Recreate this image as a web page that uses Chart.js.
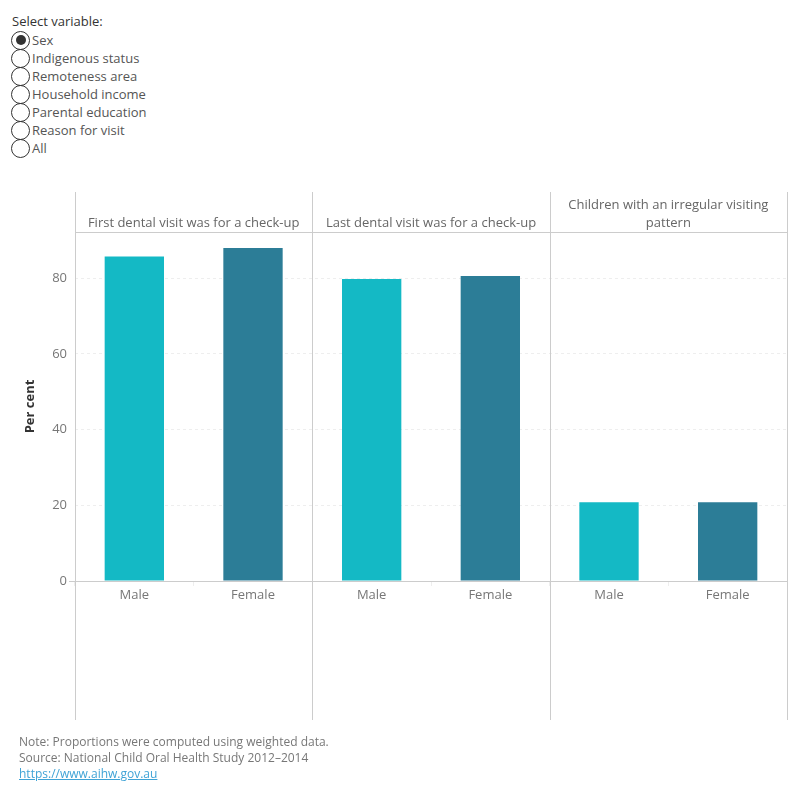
<!DOCTYPE html>
<html>
<head>
<meta charset="utf-8">
<script src="https://cdn.jsdelivr.net/npm/chart.js@4/dist/chart.umd.min.js"></script>
<style>
  html, body { margin: 0; padding: 0; background: #fff; width: 800px; height: 800px; overflow: hidden; font-family: "Open Sans", sans-serif; }
  #controls { position: absolute; left: 12px; top: 12px; font-size: 13px; color: #555; }
  #controls .title { color: #333; height: 19px; line-height: 19px; }
  #controls .row { height: 18px; line-height: 18px; display: flex; align-items: center; }
  #controls .dot { width: 19px; height: 19px; border: 1px solid #333; border-radius: 50%; box-sizing: border-box; margin-right: 2px; margin-left: -1px; position: relative; }
  #controls .dot.on::after { content: ""; position: absolute; left: 3.5px; top: 3.5px; width: 10px; height: 10px; border-radius: 50%; background: #333; }
  #wrap { position: absolute; left: 0; top: 180px; width: 800px; height: 560px; }
  #notes { position: absolute; left: 19px; top: 734px; font-size: 12px; color: #777; line-height: 16px; }
  #notes a { color: #3fa3d6; text-decoration: underline; }
</style>
</head>
<body>
<div id="controls">
  <div class="title">Select variable:</div>
  <div class="row"><span class="dot on"></span>Sex</div>
  <div class="row"><span class="dot"></span>Indigenous status</div>
  <div class="row"><span class="dot"></span>Remoteness area</div>
  <div class="row"><span class="dot"></span>Household income</div>
  <div class="row"><span class="dot"></span>Parental education</div>
  <div class="row"><span class="dot"></span>Reason for visit</div>
  <div class="row"><span class="dot"></span>All</div>
</div>
<div id="wrap"><canvas id="c" width="800" height="560"></canvas></div>
<div id="notes">
  Note: Proportions were computed using weighted data.<br>
  Source: National Child Oral Health Study 2012–2014<br>
  <a href="#">https://www.aihw.gov.au</a>
</div>
<script>
const panels = [
  ["First dental visit was for a check-up"],
  ["Last dental visit was for a check-up"],
  ["Children with an irregular visiting", "pattern"]
];
const sexes = ["Male", "Female"];
const maleValues = [85.7, 79.8, 20.8];
const femaleValues = [88.0, 80.6, 20.8];
const yTicks = [0, 20, 40, 60, 80];

const sexColors = { Male: "#14b9c5", Female: "#2c7d97" };
const FONT = "'Open Sans', sans-serif";

const labels = [];
const values = [];
const colors = [];
panels.forEach((p, i) => {
  sexes.forEach(s => {
    labels.push(s);
    values.push(s === "Male" ? maleValues[i] : femaleValues[i]);
    colors.push(sexColors[s]);
  });
});

const panelPlugin = {
  id: "panels",
  afterDraw(chart) {
    const ctx = chart.ctx;
    const x = chart.scales.x;
    const y = chart.scales.y;
    const ca = chart.chartArea;
    const bounds = [ca.left];
    for (let i = 1; i < panels.length; i++) {
      bounds.push((x.getPixelForValue(2 * i - 1) + x.getPixelForValue(2 * i)) / 2);
    }
    bounds.push(ca.right);
    ctx.save();
    ctx.strokeStyle = "#cccccc";
    ctx.lineWidth = 1;
    bounds.forEach(b => {
      const bx = Math.round(b) + 0.5;
      ctx.beginPath();
      ctx.moveTo(bx, 12);
      ctx.lineTo(bx, 540);
      ctx.stroke();
    });
    const ht = Math.round(ca.top) + 0.5;
    ctx.beginPath();
    ctx.moveTo(ca.left, ht);
    ctx.lineTo(ca.right, ht);
    ctx.stroke();
    const zy = Math.round(y.getPixelForValue(0)) + 0.5;
    ctx.beginPath();
    ctx.moveTo(ca.left - 6, zy);
    ctx.lineTo(ca.right, zy);
    ctx.stroke();
    ctx.fillStyle = "#666666";
    ctx.font = "13px " + FONT;
    ctx.textAlign = "center";
    ctx.textBaseline = "middle";
    panels.forEach((lines, i) => {
      const cx = (bounds[i] + bounds[i + 1]) / 2;
      const n = lines.length;
      lines.forEach((t, j) => {
        const ty = ca.top - 9 - (n - 1 - j) * 18;
        ctx.fillText(t, cx, ty);
      });
    });
    ctx.restore();
  }
};

new Chart(document.getElementById("c"), {
  type: "bar",
  data: {
    labels: labels,
    datasets: [{ data: values, backgroundColor: colors, barPercentage: 0.5, categoryPercentage: 1.0 }]
  },
  options: {
    responsive: false,
    animation: false,
    layout: { padding: { top: 52, right: 13, left: 0, bottom: 119 } },
    plugins: { legend: { display: false }, tooltip: { enabled: false } },
    scales: {
      x: {
        afterFit(s) { s.height = 40; },
        grid: { display: true, drawOnChartArea: false, drawTicks: true, tickLength: 5, color: "#eeeeee" },
        border: { display: false },
        ticks: { color: "#777777", font: { size: 13, family: FONT }, padding: 1 }
      },
      y: {
        min: 0,
        max: 92.2,
        afterFit(s) { s.width = 75; },
        afterBuildTicks(s) { s.ticks = yTicks.map(v => ({ value: v })); },
        grid: { drawTicks: false, color: ctx => ctx.tick && ctx.tick.value === 0 ? "rgba(0,0,0,0)" : "#eeeeee" },
        border: { display: false, dash: [3, 3] },
        ticks: { color: "#777777", font: { size: 13, family: FONT }, padding: 8 },
        title: { display: true, text: "Per cent", color: "#333333", font: { size: 13, weight: "bold", family: FONT }, padding: { top: 22, bottom: 0 } }
      }
    }
  },
  plugins: [panelPlugin]
});
</script>
</body>
</html>
